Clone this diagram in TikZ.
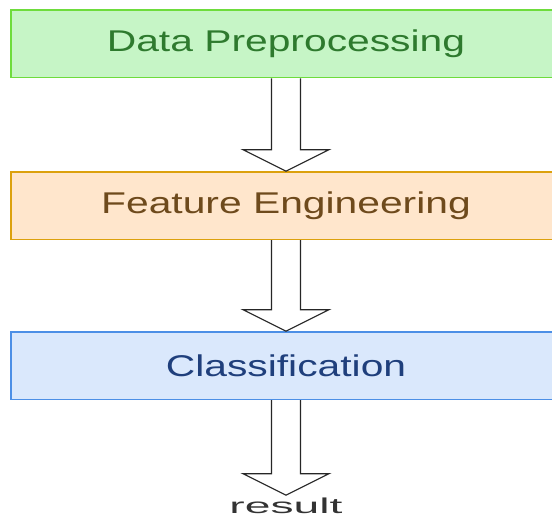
\documentclass[tikz,border=0pt]{standalone}
\usepackage{fontspec}
\setmainfont{Liberation Sans}
\usepackage{graphicx}
\usetikzlibrary{positioning}
\definecolor{leaf}{HTML}{C6F5C6}
\definecolor{leafline}{HTML}{6EDC3C}
\definecolor{leaftext}{HTML}{2E7A2E}
\definecolor{peach}{HTML}{FFE6CC}
\definecolor{peachline}{HTML}{DCA10E}
\definecolor{peachtext}{HTML}{6E4A1C}
\definecolor{sky}{HTML}{DAE8FC}
\definecolor{skyline}{HTML}{4C8FE6}
\definecolor{skytext}{HTML}{1F3F7C}
\tikzset{
  stage/.style={rectangle,line width=1.5pt,minimum width=550pt,minimum height=67.5pt,
    inner sep=0pt,font=\fontsize{30}{36}\selectfont},
  hollow/.style={draw=black!85,fill=white,line width=1.2pt,line join=miter}
}

\begin{document}
\begin{tikzpicture}[x=1pt,y=1pt,node distance=92pt]
\clip (0,0) rectangle (552,-518);
\node[stage,draw=leafline,fill=leaf,text=leaftext] at (286,-44) (pre) {\scalebox{1.36}[1]{Data Preprocessing}};
\node[stage,draw=peachline,fill=peach,text=peachtext,below=92.7pt of pre] (feat) {\scalebox{1.36}[1]{Feature Engineering}};
\node[stage,draw=skyline,fill=sky,text=skytext,below=91pt of feat] (cls) {\scalebox{1.36}[1]{Classification}};
\coordinate[below=95pt of cls] (tipend);
\node[below=3pt of tipend,inner sep=0pt,text=black!80,font=\fontsize{21.5}{26}\selectfont] (res) {\scalebox{2.15}[1]{result}};
% hollow block arrows
\foreach \s/\t in {pre.south/feat.north,feat.south/cls.north,cls.south/tipend}
  \draw[hollow] ([xshift=-14.5pt]\s) -- ([xshift=-14.5pt,yshift=21.5pt]\t) -- ([xshift=-43pt,yshift=21.5pt]\t)
    -- (\t) -- ([xshift=43pt,yshift=21.5pt]\t) -- ([xshift=14.5pt,yshift=21.5pt]\t) -- ([xshift=14.5pt]\s);
\end{tikzpicture}
\end{document}
